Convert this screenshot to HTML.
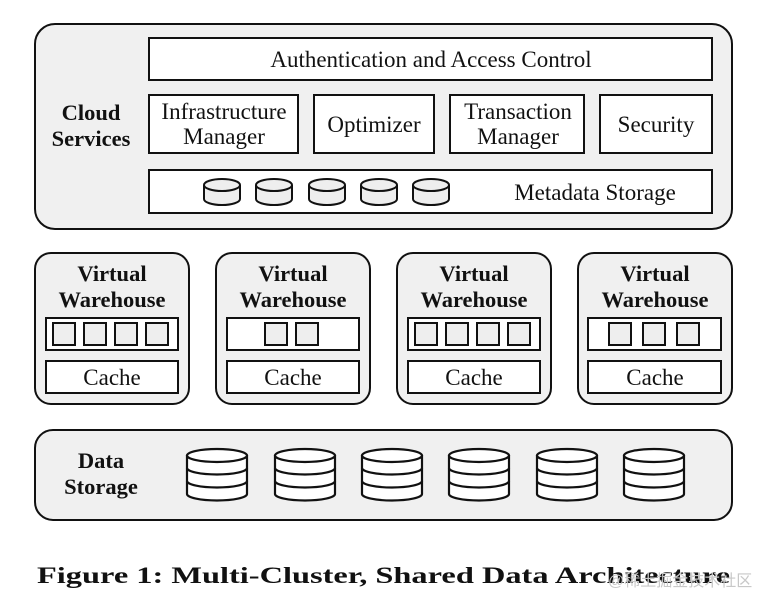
<!DOCTYPE html>
<html><head><meta charset="utf-8"><style>
html,body{margin:0;padding:0;background:#fff;}
svg{display:block;}
.s{font-family:"Liberation Serif",serif;fill:#111;}
.b{font-family:"Liberation Serif",serif;font-weight:bold;fill:#111;}
</style></head><body>
<svg width="768" height="610" viewBox="0 0 768 610" xmlns="http://www.w3.org/2000/svg">
<defs>
<g id="sc"><path d="M0,6 L0,20 A18,6 0 0 0 36,20 L36,6" fill="#eee" stroke="#111" stroke-width="2"/><ellipse cx="18" cy="6" rx="18" ry="6" fill="#eee" stroke="#111" stroke-width="2"/></g>
<g id="dc"><path d="M0,6 L0,45 A30,6.5 0 0 0 60,45 L60,6" fill="#fff" stroke="#111" stroke-width="2.2"/><path d="M0,19 A30,6.5 0 0 0 60,19 M0,32 A30,6.5 0 0 0 60,32" fill="none" stroke="#111" stroke-width="2.2"/><ellipse cx="30" cy="6.5" rx="30" ry="6.5" fill="#fff" stroke="#111" stroke-width="2.2"/></g>
<rect id="sq" width="22" height="22" fill="#eee" stroke="#111" stroke-width="2"/>
</defs>
<g stroke="#111" stroke-width="2">
<rect x="35" y="24" width="697" height="205" rx="20" fill="#f0f0f0"/>
<rect x="149" y="38" width="563" height="42" fill="#fff"/>
<rect x="149" y="95" width="149" height="58" fill="#fff"/>
<rect x="314" y="95" width="120" height="58" fill="#fff"/>
<rect x="450" y="95" width="134" height="58" fill="#fff"/>
<rect x="600" y="95" width="112" height="58" fill="#fff"/>
<rect x="149" y="170" width="563" height="43" fill="#fff"/>
</g>
<use href="#sc" x="204" y="179"/><use href="#sc" x="256" y="179"/><use href="#sc" x="309" y="179"/><use href="#sc" x="361" y="179"/><use href="#sc" x="413" y="179"/>
<g class="s" font-size="23" text-anchor="middle">
<text x="431" y="67">Authentication and Access Control</text>
<text x="224" y="119">Infrastructure</text>
<text x="224" y="144">Manager</text>
<text x="374" y="132">Optimizer</text>
<text x="518" y="119">Transaction</text>
<text x="518" y="144">Manager</text>
<text x="656" y="132">Security</text>
<text x="595" y="200">Metadata Storage</text>
</g>
<text class="b" x="91" y="120" font-size="22.5" text-anchor="middle">Cloud</text>
<text class="b" x="91" y="146" font-size="22.5" text-anchor="middle">Services</text>

<g stroke="#111" stroke-width="2">
<rect x="35" y="253" width="154" height="151" rx="16" fill="#f0f0f0"/>
<rect x="216" y="253" width="154" height="151" rx="16" fill="#f0f0f0"/>
<rect x="397" y="253" width="154" height="151" rx="16" fill="#f0f0f0"/>
<rect x="578" y="253" width="154" height="151" rx="16" fill="#f0f0f0"/>
<rect x="46" y="318" width="132" height="32" fill="#fff"/>
<rect x="227" y="318" width="132" height="32" fill="#fff"/>
<rect x="408" y="318" width="132" height="32" fill="#fff"/>
<rect x="588" y="318" width="133" height="32" fill="#fff"/>
<rect x="46" y="361" width="132" height="32" fill="#fff"/>
<rect x="227" y="361" width="132" height="32" fill="#fff"/>
<rect x="408" y="361" width="132" height="32" fill="#fff"/>
<rect x="588" y="361" width="133" height="32" fill="#fff"/>
</g>
<use href="#sq" x="53" y="323"/><use href="#sq" x="84" y="323"/><use href="#sq" x="115" y="323"/><use href="#sq" x="146" y="323"/>
<use href="#sq" x="265" y="323"/><use href="#sq" x="296" y="323"/>
<use href="#sq" x="415" y="323"/><use href="#sq" x="446" y="323"/><use href="#sq" x="477" y="323"/><use href="#sq" x="508" y="323"/>
<use href="#sq" x="609" y="323"/><use href="#sq" x="643" y="323"/><use href="#sq" x="677" y="323"/>
<g class="b" font-size="22.5" text-anchor="middle">
<text x="112" y="281">Virtual</text><text x="112" y="307">Warehouse</text>
<text x="293" y="281">Virtual</text><text x="293" y="307">Warehouse</text>
<text x="474" y="281">Virtual</text><text x="474" y="307">Warehouse</text>
<text x="655" y="281">Virtual</text><text x="655" y="307">Warehouse</text>
</g>
<g class="s" font-size="23" text-anchor="middle">
<text x="112" y="385">Cache</text><text x="293" y="385">Cache</text><text x="474" y="385">Cache</text><text x="655" y="385">Cache</text>
</g>

<rect x="35" y="430" width="697" height="90" rx="18" fill="#f0f0f0" stroke="#111" stroke-width="2"/>
<text class="b" x="101" y="468" font-size="22.5" text-anchor="middle">Data</text>
<text class="b" x="101" y="494" font-size="22.5" text-anchor="middle">Storage</text>
<use href="#dc" x="187" y="449"/><use href="#dc" x="275" y="449"/><use href="#dc" x="362" y="449"/><use href="#dc" x="449" y="449"/><use href="#dc" x="537" y="449"/><use href="#dc" x="624" y="449"/>

<text class="b" x="37" y="583" font-size="23.5" textLength="693" lengthAdjust="spacingAndGlyphs">Figure 1: Multi-Cluster, Shared Data Architecture</text>
<text x="608" y="586" font-size="16" fill="#c8c8c8" font-family="'Liberation Sans','Noto Sans CJK SC',sans-serif">@稀土掘金技术社区</text>
</svg>
</body></html>
